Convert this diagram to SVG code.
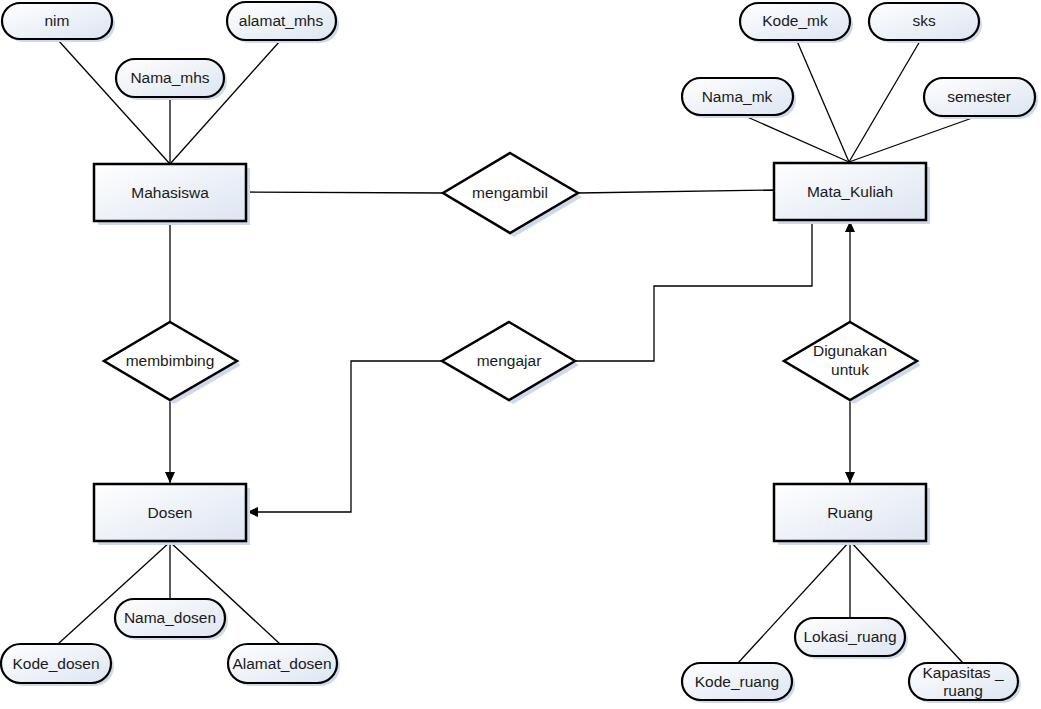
<svg xmlns="http://www.w3.org/2000/svg" width="1041" height="709" viewBox="0 0 1041 709">
<defs>
<linearGradient id="fillg" x1="0" y1="0" x2="1" y2="1">
<stop offset="0" stop-color="#ffffff"/>
<stop offset="1" stop-color="#dde5f2"/>
</linearGradient>
<marker id="arr" markerUnits="userSpaceOnUse" markerWidth="12" markerHeight="10" refX="11" refY="5" orient="auto">
<path d="M0,0 L11,5 L0,10 z" fill="#000"/>
</marker>
<style>
.bg{fill:#ffffff}
.ln{stroke:#000;stroke-width:1.3;fill:none}
.ent{fill:url(#fillg);stroke:#000;stroke-width:2.5}
.att{fill:url(#fillg);stroke:#000;stroke-width:2.2}
.rel{fill:#ffffff;stroke:#000;stroke-width:2.5;stroke-linejoin:miter}
.sh{fill:#cfd9ea}
text{font-family:"Liberation Sans",Arial,sans-serif;font-size:15.5px;fill:#1a1a1a;text-anchor:middle}
</style>
</defs>
<rect class="bg" x="0" y="0" width="1041" height="709"/>

<g id="connectors">
<line class="ln" x1="58" y1="40" x2="170" y2="164"/>
<line class="ln" x1="170" y1="97" x2="170" y2="164"/>
<line class="ln" x1="280" y1="41" x2="170" y2="164"/>
<line class="ln" x1="797" y1="41" x2="849" y2="162"/>
<line class="ln" x1="920" y1="41" x2="849" y2="162"/>
<line class="ln" x1="745" y1="116" x2="849" y2="162"/>
<line class="ln" x1="975" y1="117" x2="849" y2="162"/>
<line class="ln" x1="246" y1="192" x2="443" y2="193"/>
<line class="ln" x1="578" y1="193" x2="774" y2="190"/>
<line class="ln" x1="170" y1="222" x2="170" y2="322"/>
<line class="ln" x1="170" y1="400" x2="170" y2="483" marker-end="url(#arr)"/>
<polyline class="ln" points="442,361 351,361 351,512 247,512" marker-end="url(#arr)"/>
<polyline class="ln" points="575,361 654,361 654,286 812,286 812,220"/>
<line class="ln" x1="850" y1="322" x2="850" y2="221" marker-end="url(#arr)"/>
<line class="ln" x1="850" y1="400" x2="850" y2="483" marker-end="url(#arr)"/>
<line class="ln" x1="170" y1="542" x2="170" y2="599"/>
<line class="ln" x1="170" y1="542" x2="58" y2="644"/>
<line class="ln" x1="170" y1="542" x2="280" y2="644"/>
<line class="ln" x1="850" y1="541" x2="850" y2="618"/>
<line class="ln" x1="850" y1="541" x2="738" y2="663"/>
<line class="ln" x1="850" y1="541" x2="963" y2="663"/>
</g>

<g id="Mahasiswa">
<rect class="sh" x="98" y="168" width="152" height="57"/>
<rect class="ent" x="94" y="164" width="152" height="57"/>
<text x="170" y="198">Mahasiswa</text>
</g>
<g id="Mata_Kuliah">
<rect class="sh" x="778" y="167" width="152" height="57"/>
<rect class="ent" x="774" y="163" width="152" height="57"/>
<text x="850" y="197">Mata_Kuliah</text>
</g>
<g id="Dosen">
<rect class="sh" x="98" y="488" width="152" height="57"/>
<rect class="ent" x="94" y="484" width="152" height="57"/>
<text x="170" y="518">Dosen</text>
</g>
<g id="Ruang">
<rect class="sh" x="778" y="488" width="152" height="57"/>
<rect class="ent" x="774" y="484" width="152" height="57"/>
<text x="850" y="518">Ruang</text>
</g>

<g id="mengambil">
<polygon class="sh" points="514,157 582,197 514,237 447,197"/>
<polygon class="rel" points="510,153 578,193 510,233 443,193"/>
<text x="510" y="198">mengambil</text>
</g>
<g id="membimbing">
<polygon class="sh" points="174,326 241,365 174,404 108,365"/>
<polygon class="rel" points="170,322 237,361 170,400 104,361"/>
<text x="170" y="366">membimbing</text>
</g>
<g id="mengajar">
<polygon class="sh" points="513,326 579,365 513,404 446,365"/>
<polygon class="rel" points="509,322 575,361 509,400 442,361"/>
<text x="509" y="366">mengajar</text>
</g>
<g id="Digunakan_untuk">
<polygon class="sh" points="854,326 921,365 854,404 788,365"/>
<polygon class="rel" points="850,322 917,361 850,400 784,361"/>
<text x="850" y="356">Digunakan</text>
<text x="850" y="375">untuk</text>
</g>

<g id="nim">
<rect class="sh" x="5" y="6" width="110" height="36" rx="18"/>
<rect class="att" x="2" y="3" width="110" height="36" rx="18"/>
<text x="57" y="26">nim</text>
</g>
<g id="Nama_mhs">
<rect class="sh" x="119" y="62" width="108" height="38" rx="19"/>
<rect class="att" x="116" y="59" width="108" height="38" rx="19"/>
<text x="170" y="83">Nama_mhs</text>
</g>
<g id="alamat_mhs">
<rect class="sh" x="230" y="5" width="109" height="38" rx="19"/>
<rect class="att" x="227" y="2" width="109" height="38" rx="19"/>
<text x="281" y="26">alamat_mhs</text>
</g>
<g id="Kode_mk">
<rect class="sh" x="743" y="6" width="110" height="37" rx="18.5"/>
<rect class="att" x="740" y="3" width="110" height="37" rx="18.5"/>
<text x="795" y="26">Kode_mk</text>
</g>
<g id="sks">
<rect class="sh" x="872" y="6" width="110" height="37" rx="18.5"/>
<rect class="att" x="869" y="3" width="110" height="37" rx="18.5"/>
<text x="924" y="26">sks</text>
</g>
<g id="Nama_mk">
<rect class="sh" x="685" y="81" width="111" height="37" rx="18.5"/>
<rect class="att" x="682" y="78" width="111" height="37" rx="18.5"/>
<text x="737" y="102">Nama_mk</text>
</g>
<g id="semester">
<rect class="sh" x="927" y="81" width="111" height="38" rx="19"/>
<rect class="att" x="924" y="78" width="111" height="38" rx="19"/>
<text x="979" y="102">semester</text>
</g>
<g id="Nama_dosen">
<rect class="sh" x="118" y="602" width="110" height="38" rx="19"/>
<rect class="att" x="115" y="599" width="110" height="38" rx="19"/>
<text x="170" y="623">Nama_dosen</text>
</g>
<g id="Kode_dosen">
<rect class="sh" x="4" y="647" width="110" height="39" rx="19.5"/>
<rect class="att" x="1" y="644" width="110" height="39" rx="19.5"/>
<text x="56" y="669">Kode_dosen</text>
</g>
<g id="Alamat_dosen">
<rect class="sh" x="231" y="647" width="109" height="39" rx="19.5"/>
<rect class="att" x="228" y="644" width="109" height="39" rx="19.5"/>
<text x="282" y="669">Alamat_dosen</text>
</g>
<g id="Lokasi_ruang">
<rect class="sh" x="798" y="621" width="110" height="38" rx="19"/>
<rect class="att" x="795" y="618" width="110" height="38" rx="19"/>
<text x="850" y="642">Lokasi_ruang</text>
</g>
<g id="Kode_ruang">
<rect class="sh" x="685" y="666" width="110" height="37" rx="18.5"/>
<rect class="att" x="682" y="663" width="110" height="37" rx="18.5"/>
<text x="737" y="687">Kode_ruang</text>
</g>
<g id="Kapasitas_ruang">
<rect class="sh" x="912" y="666" width="109" height="37" rx="18.5"/>
<rect class="att" x="909" y="663" width="109" height="37" rx="18.5"/>
<text x="963" y="678">Kapasitas _</text>
<text x="963" y="696">ruang</text>
</g>
</svg>
